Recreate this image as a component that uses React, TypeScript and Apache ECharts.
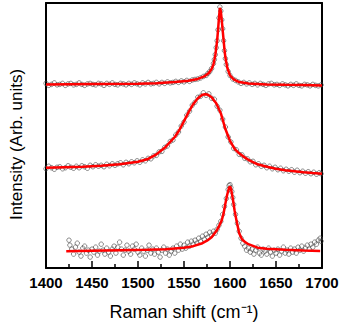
import React, { useEffect, useRef } from "react";
import * as echarts from "echarts";

const xMin = 1400;
const xMax = 1700;
const xStep = 50;

// Measured spectra (Raman shift cm-1, intensity arb. units)
const topPoints: [number, number][] = [
  [1400, 186], [1403, 184], [1406, 185], [1409, 186.5], [1412, 184.5], [1415, 185], [1418, 186], [1421, 184],
  [1424, 185.5], [1427, 186], [1430, 184.5], [1433, 185], [1436, 186.5], [1439, 185], [1442, 184], [1445, 185.5],
  [1448, 186], [1451, 185], [1454, 184.5], [1457, 186], [1460, 185.5], [1463, 184], [1466, 186], [1469, 185],
  [1472, 186.5], [1475, 185], [1478, 184.5], [1481, 186], [1484, 185.5], [1487, 184.5], [1490, 186], [1493, 185],
  [1496, 186.5], [1499, 185.5], [1502, 184.5], [1505, 186.5], [1508, 185.5], [1511, 187], [1514, 185.5], [1517, 186],
  [1520, 187], [1523, 185.5], [1526, 187], [1529, 186], [1532, 187.5], [1535, 186.5], [1538, 187], [1541, 188],
  [1544, 187], [1547, 188.5], [1550, 187.5], [1553, 189], [1556, 188], [1559, 189.5], [1562, 190], [1565, 190.5],
  [1568, 191.5], [1571, 193], [1574, 194], [1576, 196], [1578, 198], [1580, 201], [1582, 206], [1583, 210],
  [1584, 215], [1585, 222], [1586, 229], [1587, 240], [1588, 252], [1589, 263], [1590, 259], [1591, 250],
  [1592, 241], [1593, 229], [1594, 219], [1595, 211], [1596, 205], [1598, 198], [1600, 194], [1603, 190.5],
  [1606, 189], [1609, 187.5], [1612, 186], [1615, 187], [1618, 185.5], [1621, 186.5], [1624, 185], [1627, 186],
  [1630, 184.5], [1633, 186], [1636, 185], [1639, 184], [1642, 185.5], [1645, 186], [1648, 184.5], [1651, 185],
  [1654, 184], [1657, 185.5], [1660, 184.5], [1663, 183.5], [1666, 185], [1669, 184], [1672, 185.5], [1675, 184],
  [1678, 183.5], [1681, 185], [1684, 184.5], [1687, 183.5], [1690, 185], [1693, 184], [1696, 183.5], [1699, 184.5],
];

const topFit: [number, number][] = [
  [1400, 185], [1450, 185.3], [1500, 185.7], [1520, 186.2], [1540, 187.3], [1555, 188.7], [1565, 190.5],
  [1572, 193], [1577, 196.5], [1580, 200.5], [1582, 205], [1584, 214], [1586, 229], [1587, 240], [1588, 252],
  [1589, 262], [1590, 259], [1591, 250], [1592, 240], [1593, 230], [1594, 220], [1595, 212], [1597, 202],
  [1600, 194], [1604, 190], [1610, 187.3], [1620, 185.8], [1640, 185], [1660, 184.6], [1680, 184.3], [1700, 184],
];

const midPoints: [number, number][] = [
  [1400, 100], [1403, 102.5], [1406, 101], [1409, 99.5], [1412, 101.5], [1415, 102], [1418, 100], [1421, 101],
  [1424, 103], [1427, 101.5], [1430, 100.5], [1433, 102.5], [1436, 101], [1439, 103], [1442, 102], [1445, 100.5],
  [1448, 103.5], [1451, 102], [1454, 104], [1457, 102.5], [1460, 103.5], [1463, 102], [1466, 104.5], [1469, 103],
  [1472, 105], [1475, 103.5], [1478, 105], [1481, 106], [1484, 104], [1487, 106.5], [1490, 105], [1493, 107],
  [1496, 106], [1499, 108], [1502, 106.5], [1505, 109], [1508, 108], [1511, 110.5], [1514, 110], [1517, 113],
  [1520, 113.5], [1523, 117], [1526, 117.5], [1529, 121.5], [1532, 123], [1535, 127.5], [1538, 129], [1541, 134],
  [1544, 137], [1547, 143], [1550, 147], [1553, 154], [1556, 158], [1559, 164], [1562, 167], [1565, 172],
  [1568, 173], [1571, 176.5], [1574, 174], [1577, 175.5], [1580, 171], [1583, 170], [1586, 163], [1589, 159],
  [1592, 150], [1595, 142], [1598, 132], [1601, 127], [1604, 120.5], [1607, 119], [1610, 114.5], [1613, 114],
  [1616, 110.5], [1619, 110], [1622, 107], [1625, 107.5], [1628, 104], [1631, 105], [1634, 102.5], [1637, 103.5],
  [1640, 101], [1643, 102.5], [1646, 100], [1649, 101.5], [1652, 99], [1655, 100.5], [1658, 98], [1661, 99.5],
  [1664, 97.5], [1667, 99], [1670, 96.5], [1673, 98.5], [1676, 96], [1679, 97.5], [1682, 95.5], [1685, 97],
  [1688, 95], [1691, 96.5], [1694, 94.5], [1697, 96], [1699, 95],
];

const midFit: [number, number][] = [
  [1400, 101], [1420, 101.5], [1440, 102], [1460, 103], [1480, 104.5], [1500, 107], [1510, 109.5], [1520, 114.5],
  [1530, 122], [1540, 132], [1545, 139], [1550, 148], [1555, 157], [1560, 165], [1565, 171], [1570, 174.5],
  [1573, 175], [1576, 174.5], [1580, 172], [1585, 166], [1590, 156], [1595, 140], [1600, 128], [1605, 120],
  [1610, 115.5], [1615, 112], [1620, 109], [1630, 104.5], [1640, 102], [1650, 100], [1660, 98.5], [1670, 97.5],
  [1680, 96.5], [1690, 95.7], [1700, 95],
];

const lowPoints: [number, number][] = [
  [1425, 28], [1426, 23], [1428, 19], [1430, 14], [1432, 21], [1434, 25], [1436, 16], [1438, 12], [1440, 20],
  [1442, 22], [1444, 15], [1446, 18], [1448, 11], [1450, 19], [1452, 16], [1454, 21], [1456, 13], [1458, 17],
  [1460, 24], [1462, 18], [1464, 14], [1466, 20], [1468, 16], [1470, 12], [1472, 19], [1474, 22], [1476, 15],
  [1478, 21], [1480, 26], [1482, 19], [1484, 13], [1486, 18], [1488, 23], [1490, 17], [1492, 14], [1494, 22],
  [1496, 19], [1498, 24], [1500, 16], [1502, 13], [1504, 20], [1506, 17], [1508, 12], [1510, 18], [1512, 23],
  [1514, 15], [1516, 19], [1518, 14], [1520, 20], [1522, 16], [1524, 11], [1526, 18], [1528, 21], [1530, 15],
  [1532, 19], [1534, 13], [1536, 17], [1538, 20], [1540, 15], [1542, 22], [1544, 18], [1546, 24], [1548, 19],
  [1550, 23], [1552, 20], [1554, 26], [1556, 22], [1558, 27], [1560, 24], [1562, 28], [1564, 25], [1566, 30],
  [1568, 27], [1570, 32], [1572, 29], [1574, 34], [1576, 31], [1578, 36], [1580, 33], [1582, 37], [1584, 35],
  [1586, 39], [1588, 43], [1590, 47], [1592, 54], [1594, 62], [1596, 70], [1598, 79], [1599, 83], [1600, 84],
  [1601, 81], [1602, 77], [1603, 71], [1604, 64], [1606, 54], [1608, 45], [1610, 37], [1612, 30], [1614, 25],
  [1616, 22], [1618, 18], [1620, 20], [1622, 16], [1624, 19], [1626, 14], [1628, 18], [1630, 21], [1632, 15],
  [1634, 13], [1636, 19], [1638, 17], [1640, 14], [1642, 20], [1644, 16], [1646, 12], [1648, 18], [1650, 15],
  [1652, 19], [1654, 13], [1656, 17], [1658, 21], [1660, 15], [1662, 18], [1664, 14], [1666, 20], [1668, 16],
  [1670, 19], [1672, 15], [1674, 21], [1676, 18], [1678, 22], [1680, 17], [1682, 20], [1684, 23], [1686, 19],
  [1688, 24], [1690, 21], [1692, 26], [1694, 24], [1696, 28], [1698, 30], [1699, 27],
];

const lowFit: [number, number][] = [
  [1422, 17], [1450, 17.5], [1480, 18], [1510, 18.5], [1530, 19], [1550, 20.5], [1560, 22], [1570, 25],
  [1575, 27.5], [1580, 31], [1585, 37], [1588, 42], [1591, 48], [1593, 55], [1595, 65], [1597, 74], [1599, 81],
  [1600, 82], [1601, 80.5], [1603, 70], [1605, 58], [1607, 48], [1610, 35], [1613, 29], [1616, 26.5],
  [1620, 24], [1630, 20.5], [1640, 19.5], [1660, 18.3], [1680, 17.6], [1698, 17.2],
];

const xTitle = "Raman shift (cm⁻¹)";
const yTitle = "Intensity (Arb. units)";

export default function App() {
  const ref = useRef<HTMLDivElement>(null);
  useEffect(() => {
    if (!ref.current) return;
    const chart = echarts.init(ref.current, null, { renderer: "svg" });
    const font = "'Liberation Sans', Arial, sans-serif";
    const frameLine = () => ({ show: true, onZero: false, lineStyle: { color: "#000", width: 2 } });
    const scatter = (data: [number, number][]) => ({
      type: "scatter",
      data,
      symbol: "circle",
      symbolSize: 4.5,
      itemStyle: { color: "transparent", borderColor: "#4a4a4a", borderWidth: 0.8 },
      z: 2,
    });
    const fit = (data: [number, number][]) => ({
      type: "line",
      data,
      showSymbol: false,
      symbol: "none",
      lineStyle: { color: "#ff0000", width: 2.5 },
      z: 3,
    });
    chart.setOption({
      animation: false,
      grid: { left: 41, right: 20, top: 3, bottom: 56 },
      xAxis: [
        {
          type: "value",
          min: xMin,
          max: xMax,
          interval: xStep,
          position: "bottom",
          axisLine: frameLine(),
          axisTick: { show: true, inside: true, length: 7, lineStyle: { color: "#000", width: 1.5 } },
          minorTick: { show: true, splitNumber: 2, length: 4, lineStyle: { color: "#000", width: 1.5 } },
          axisLabel: {
            margin: 7,
            fontFamily: font,
            fontSize: 15,
            fontWeight: "bold",
            color: "#000",
            formatter: (v: number) => String(v),
          },
          splitLine: { show: false },
          name: xTitle,
          nameLocation: "middle",
          nameGap: 35,
          nameTextStyle: { fontFamily: font, fontSize: 18, color: "#000" },
        },
        {
          type: "value",
          min: xMin,
          max: xMax,
          interval: xStep,
          position: "top",
          axisLine: frameLine(),
          axisTick: { show: false },
          axisLabel: { show: false },
          splitLine: { show: false },
        },
      ],
      yAxis: [
        {
          type: "value",
          min: 0,
          max: 267,
          position: "left",
          axisLine: frameLine(),
          axisTick: { show: false },
          axisLabel: { show: false },
          splitLine: { show: false },
          name: yTitle,
          nameLocation: "middle",
          nameGap: 21,
          nameTextStyle: { fontFamily: font, fontSize: 17, color: "#000", padding: [0, 18, 0, 0] },
        },
        {
          type: "value",
          min: 0,
          max: 267,
          position: "right",
          axisLine: frameLine(),
          axisTick: { show: false },
          axisLabel: { show: false },
          splitLine: { show: false },
        },
      ],
      series: [
        scatter(topPoints),
        scatter(midPoints),
        scatter(lowPoints),
        fit(topFit),
        fit(midFit),
        fit(lowFit),
      ],
    });
    return () => chart.dispose();
  }, []);
  return (
    <div
      ref={ref}
      style={{ position: "fixed", left: 0, top: 0, width: 342, height: 326, background: "#fff" }}
    />
  );
}
